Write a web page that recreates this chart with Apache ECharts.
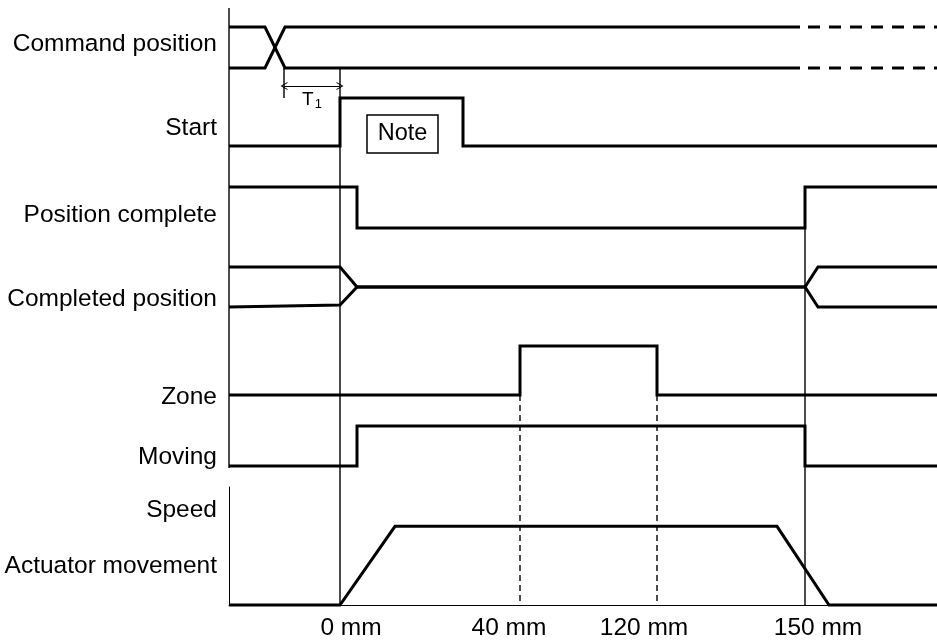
<!DOCTYPE html>
<html>
<head>
<meta charset="utf-8">
<script src="https://cdn.jsdelivr.net/npm/echarts@6/dist/echarts.min.js"></script>
<style>
html, body { margin: 0; padding: 0; background: #fff; }
#chart { width: 937px; height: 641px; }
</style>
</head>
<body>
<div id="chart"></div>
<script>
// time axis, arbitrary units, 0 = start of the move (0 mm)
const timeMin = -111
const timeMax = 597

// signal rows
const signalNames = ['Command position', 'Start', 'Position complete', 'Completed position', 'Zone', 'Moving']
const labelLevels = [0.58, 0.38, 0.32, 0.19, -0.05, 0.22]

const cmdTimes = [-111, -75, -55, 460]
const cmdUpperLevels = [1, 1, 0, 0]
const cmdLowerLevels = [0, 0, 1, 1]
const cmdPendingTimes = [468, 597]

const startTimes = [-111, 0, 0, 123, 123, 597]
const startLevels = [0, 0, 1, 1, 0, 0]

const completeTimes = [-111, 17, 17, 465, 465, 597]
const completeLevels = [1, 1, 0, 0, 1, 1]

const donePosTimes = [-111, 0, 17, 465, 478, 597]
const donePosUpper = [1, 1, 0.5, 0.5, 1, 1]
const donePosLower = [0, 0.05, 0.5, 0.5, 0, 0]

const zoneTimes = [-111, 180, 180, 317, 317, 597]
const zoneLevels = [0, 0, 1, 1, 0, 0]

const movingTimes = [-111, 17, 17, 465, 465, 597]
const movingLevels = [0, 0, 1, 1, 0, 0]

// speed profile (percent of set speed)
const speedTimes = [-111, 0, 55, 437, 489, 597]
const speedValues = [0, 0, 100, 100, 0, 0]
const speedMax = 150
const speedLabelValues = [121, 49]
const speedLabels = ['Speed', 'Actuator movement']

// positions reached along the move
const positionTicks = [0, 180, 317, 465]
const positionLabels = ['0 mm', '40 mm', '120 mm', '150 mm']
const positionShift = [22, -22, -26, 26] // label nudge

const t1Times = [-56, 0]
const noteTimes = [27, 98]

// layout (pixels)
const rowLayout = [
  { top: 27, bottom: 68 },
  { top: 98, bottom: 146 },
  { top: 187, bottom: 228 },
  { top: 267, bottom: 307 },
  { top: 346, bottom: 395 },
  { top: 426, bottom: 466 }
]
const speedBox = { top: 487, bottom: 605 }
const gridLeft = 229
const H = 641

const FONT = "'Liberation Sans', Arial, sans-serif"
const FS = 24.5
const BLACK = '#000'

const zip = (a, b) => a.map((v, i) => [v, b[i]])
const yAt = (row, level) => rowLayout[row].top + (1 - level) * (rowLayout[row].bottom - rowLayout[row].top)

const grids = []
const xAxes = []
const yAxes = []

rowLayout.forEach((r, i) => {
  grids.push({ left: gridLeft, right: 0, top: r.top, height: r.bottom - r.top, outerBoundsMode: 'none' })
  xAxes.push({ gridIndex: i, type: 'value', min: timeMin, max: timeMax, show: false })
  yAxes.push({
    gridIndex: i,
    type: 'value',
    min: -0.1,
    max: 1,
    axisLine: { show: false },
    axisTick: { show: false },
    splitLine: { show: false },
    axisLabel: {
      customValues: [labelLevels[i]],
      margin: 12,
      color: BLACK,
      fontSize: FS,
      fontFamily: FONT,
      formatter: () => signalNames[i]
    }
  })
})
// level 0 sits on the row bottom
rowLayout.forEach((r, i) => {
  const h = r.bottom - r.top
  grids[i].height = h * 1.1
})

// speed grid
const SPEED = rowLayout.length
grids.push({ left: gridLeft, right: 0, top: speedBox.top, height: speedBox.bottom - speedBox.top, outerBoundsMode: 'none' })
xAxes.push({
  gridIndex: SPEED,
  type: 'value',
  min: timeMin,
  max: timeMax,
  axisLine: { show: true, onZero: false, lineStyle: { color: BLACK, width: 1 } },
  axisTick: { show: false },
  splitLine: { show: false },
  axisLabel: {
    customValues: positionTicks,
    margin: 11,
    formatter: v => {
      const i = positionTicks.indexOf(v)
      return '{p' + i + '|' + positionLabels[i] + '}'
    },
    rich: Object.fromEntries(positionShift.map((s, i) => [
      'p' + i,
      {
        fontSize: FS,
        fontFamily: FONT,
        color: BLACK,
        padding: s > 0 ? [0, 0, 0, s] : [0, -s, 0, 0]
      }
    ]))
  }
})
yAxes.push({
  gridIndex: SPEED,
  type: 'value',
  min: 0,
  max: speedMax,
  axisLine: { show: true, onZero: false, lineStyle: { color: BLACK, width: 1 } },
  axisTick: { show: false },
  splitLine: { show: false },
  axisLabel: {
    customValues: speedLabelValues,
    margin: 12,
    color: BLACK,
    fontSize: FS,
    fontFamily: FONT,
    formatter: v => speedLabels[speedLabelValues.indexOf(v)]
  }
})

// overlay grid for guides and notes
const OVER = SPEED + 1
grids.push({ left: gridLeft, right: 0, top: 0, height: H, outerBoundsMode: 'none' })
xAxes.push({ gridIndex: OVER, type: 'value', min: timeMin, max: timeMax, show: false })
yAxes.push({ gridIndex: OVER, type: 'value', min: 0, max: H, inverse: true, show: false })

function trace(idx, data, extra) {
  return Object.assign({
    type: 'line',
    xAxisIndex: idx,
    yAxisIndex: idx,
    data: data,
    showSymbol: false,
    symbol: 'none',
    clip: false,
    silent: true,
    animation: false,
    lineStyle: { color: BLACK, width: 3, join: 'miter', cap: 'butt' }
  }, extra || {})
}

function guide(t, y0, y1, dashed) {
  return trace(OVER, [[t, y0], [t, y1]], {
    lineStyle: { color: BLACK, width: 1.4, type: dashed ? [6, 4] : 'solid' }
  })
}

const dashStyle = { color: BLACK, width: 3, type: [12, 9] }
const baseY = speedBox.bottom

const series = [
  trace(0, zip(cmdTimes, cmdUpperLevels)),
  trace(0, zip(cmdTimes, cmdLowerLevels)),
  trace(0, zip(cmdPendingTimes, [1, 1]), { lineStyle: dashStyle }),
  trace(0, zip(cmdPendingTimes, [0, 0]), { lineStyle: dashStyle }),
  trace(1, zip(startTimes, startLevels)),
  trace(2, zip(completeTimes, completeLevels)),
  trace(3, zip(donePosTimes, donePosUpper)),
  trace(3, zip(donePosTimes, donePosLower)),
  trace(4, zip(zoneTimes, zoneLevels)),
  trace(5, zip(movingTimes, movingLevels)),
  trace(SPEED, zip(speedTimes, speedValues)),

  // left frame of the signal block
  guide(timeMin, 8, yAt(5, 0) + 2),
  // 0 mm and 150 mm
  guide(positionTicks[0], yAt(0, 0), baseY),
  guide(positionTicks[3], yAt(2, 0), baseY),
  // 40 mm and 120 mm
  guide(positionTicks[1], yAt(4, 0), baseY, true),
  guide(positionTicks[2], yAt(4, 0), baseY, true),
  // T1 tick with dimension arrow, note box
  trace(OVER, [[t1Times[0], yAt(0, 0)], [t1Times[0], yAt(1, 1)]], {
    lineStyle: { color: BLACK, width: 1.4 },
    markLine: {
      silent: true,
      animation: false,
      symbol: ['path://M0,10L5,0L10,10L8.6,10L5,2.8L1.4,10Z', 'path://M0,10L5,0L10,10L8.6,10L5,2.8L1.4,10Z'],
      symbolSize: [8, 7],
      lineStyle: { color: BLACK, width: 1.2, type: 'solid' },
      label: {
        show: true,
        position: 'insideMiddleBottom',
        distance: 3,
        formatter: 'T{sub|1}',
        color: BLACK,
        fontSize: 19,
        fontFamily: FONT,
        rich: { sub: { fontSize: 13, fontFamily: FONT, color: BLACK, verticalAlign: 'bottom', padding: [9, 0, 0, 1] } }
      },
      data: [[{ coord: [t1Times[0], 86] }, { coord: [t1Times[1], 86] }]]
    },
    markArea: {
      silent: true,
      animation: false,
      itemStyle: { color: 'rgba(0,0,0,0)', borderColor: BLACK, borderWidth: 1.5 },
      label: {
        show: true,
        position: 'inside',
        color: BLACK,
        fontSize: 23.5,
        fontFamily: FONT
      },
      data: [[{ name: 'Note', coord: [noteTimes[0], 115] }, { coord: [noteTimes[1], 153] }]]
    }
  })
]

const chart = echarts.init(document.getElementById('chart'), null, { renderer: 'canvas' })
chart.setOption({
  animation: false,
  backgroundColor: '#fff',
  grid: grids,
  xAxis: xAxes,
  yAxis: yAxes,
  series: series
})
window.addEventListener('resize', () => chart.resize())
</script>
</body>
</html>
